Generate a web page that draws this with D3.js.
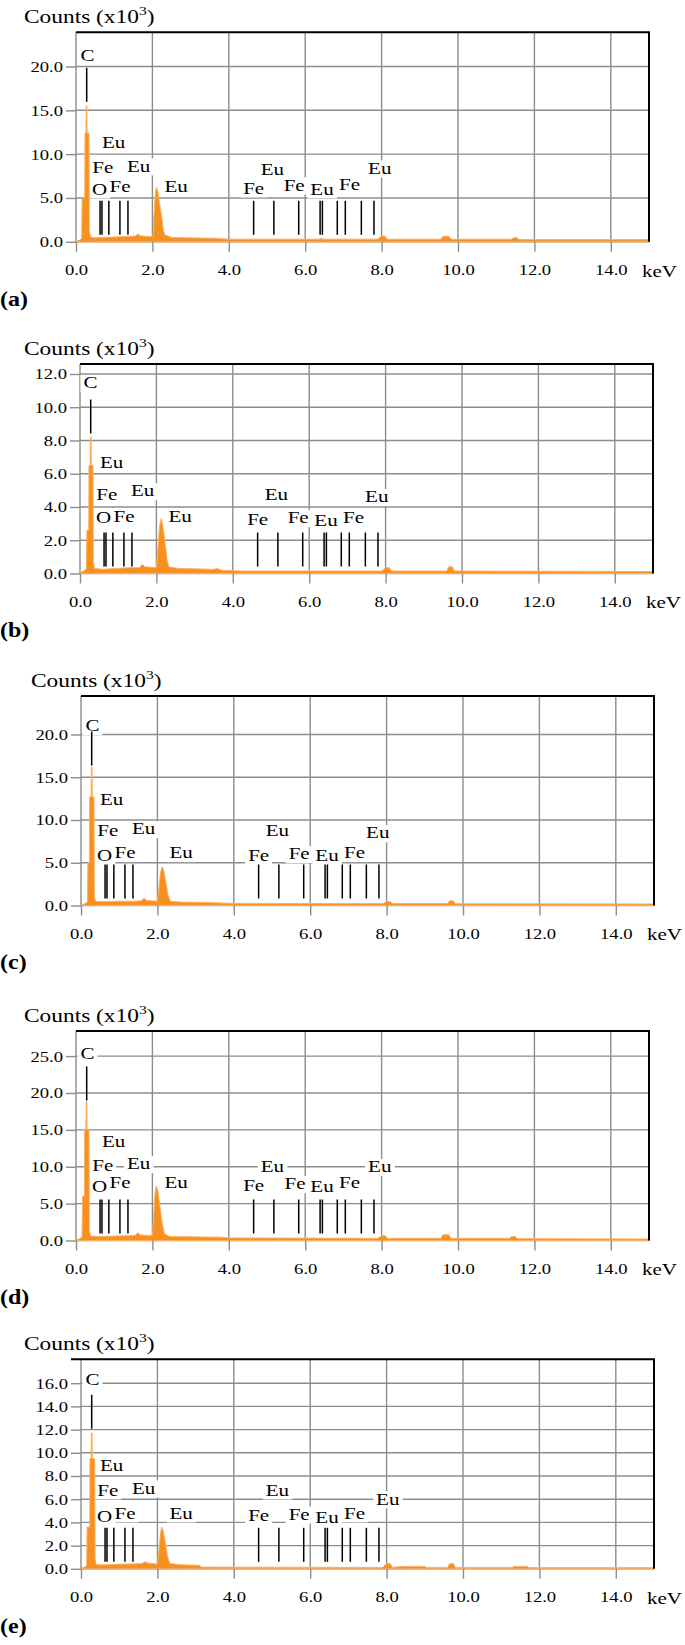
<!DOCTYPE html>
<html>
<head>
<meta charset="utf-8">
<script src="https://cdn.jsdelivr.net/npm/d3@7"></script>
<style>
body { margin: 0; background: #fff; }
svg { display: block; }
</style>
</head>
<body>
<div id="chart"></div>
<script>
// ---- data ----
var panels = ["a", "b", "c", "d", "e"];
var xTicks = [0, 2, 4, 6, 8, 10, 12, 14];
var yTicks = [
  [0, 5, 10, 15, 20],
  [0, 2, 4, 6, 8, 10, 12],
  [0, 5, 10, 15, 20],
  [0, 5, 10, 15, 20, 25],
  [0, 2, 4, 6, 8, 10, 12, 14, 16]
];
var yMax = [23.9, 12.6, 24.5, 28.4, 18.06];

// reference lines (keV)
var lineC = 0.28;
var lineOthers = [0.63, 0.68, 0.86, 1.15, 1.36, 4.65, 5.18, 5.83, 6.39, 6.45, 6.84, 7.05, 7.47, 7.80];

// peak labels and their energies (keV)
var peakLabels = ["C", "Eu", "Fe", "Eu", "O", "Fe", "Eu", "Fe", "Eu", "Fe", "Eu", "Fe", "Eu"];
var peakLabelKeV = [0.30, 0.88, 0.70, 1.64, 0.62, 1.155, 2.62, 4.65, 5.14, 5.71, 6.44, 7.16, 7.90];

// spectra [keV, counts x10^3]
var spectrumA = [[0,0.05],[0.10,0.2],[0.15,0.4],[0.16,5.0],[0.23,5.0],[0.235,12.4],[0.26,12.4],[0.265,15.5],[0.285,15.5],[0.29,12.4],[0.34,12.4],[0.35,1.2],[0.38,0.6],[0.45,0.45],[0.70,0.5],[1.0,0.55],[1.3,0.6],[1.55,0.65],[1.62,0.9],[1.68,0.7],[1.9,0.6],[2.02,0.6],[2.04,3.0],[2.08,5.6],[2.10,6.2],[2.14,5.8],[2.18,4.6],[2.24,3.0],[2.28,1.5],[2.32,0.8],[2.5,0.5],[3.0,0.45],[3.6,0.4],[3.8,0.35],[4.0,0.3],[6.4,0.3],[6.42,0.45],[6.45,0.3],[7.9,0.3],[8.0,0.65],[8.08,0.65],[8.15,0.3],[9.55,0.3],[9.6,0.6],[9.75,0.65],[9.82,0.3],[11.4,0.3],[11.45,0.45],[11.55,0.45],[11.6,0.25],[15.0,0.25]];
var spectrumB = [[0,0.05],[0.10,0.15],[0.17,0.3],[0.18,2.6],[0.23,2.6],[0.235,6.5],[0.265,6.5],[0.27,8.2],[0.29,8.2],[0.295,6.5],[0.34,6.5],[0.35,0.7],[0.38,0.3],[0.6,0.25],[0.9,0.3],[1.3,0.35],[1.55,0.35],[1.63,0.55],[1.7,0.4],[2.0,0.35],[2.04,1.5],[2.08,2.8],[2.12,3.3],[2.16,3.0],[2.22,2.0],[2.28,0.8],[2.33,0.4],[2.6,0.3],[3.5,0.25],[3.6,0.3],[3.7,0.2],[4.2,0.15],[7.9,0.15],[8.0,0.35],[8.1,0.35],[8.15,0.15],[9.6,0.15],[9.65,0.4],[9.75,0.4],[9.8,0.15],[15.0,0.12]];
var spectrumC = [[0,0.05],[0.10,0.2],[0.17,0.4],[0.18,5.0],[0.22,5.0],[0.225,12.7],[0.265,12.7],[0.27,16.2],[0.29,16.2],[0.295,12.7],[0.34,12.7],[0.35,1.2],[0.38,0.5],[0.6,0.45],[1.0,0.5],[1.4,0.5],[1.58,0.55],[1.65,0.85],[1.72,0.6],[2.0,0.5],[2.04,2.0],[2.08,3.8],[2.12,4.5],[2.16,4.2],[2.22,2.8],[2.28,1.2],[2.34,0.5],[2.6,0.4],[3.4,0.35],[3.6,0.3],[4.0,0.25],[7.9,0.22],[8.0,0.45],[8.1,0.45],[8.15,0.22],[9.6,0.22],[9.65,0.55],[9.75,0.55],[9.8,0.2],[15.0,0.18]];
var spectrumD = [[0,0.05],[0.10,0.25],[0.16,0.5],[0.17,6.0],[0.22,6.0],[0.225,15.0],[0.26,15.0],[0.265,18.8],[0.285,18.8],[0.29,15.0],[0.34,15.0],[0.35,1.5],[0.38,0.6],[0.6,0.55],[1.0,0.6],[1.4,0.65],[1.55,0.7],[1.62,1.05],[1.69,0.75],[2.0,0.65],[2.03,3.0],[2.07,6.5],[2.10,7.4],[2.14,6.8],[2.2,4.5],[2.26,2.2],[2.32,0.9],[2.45,0.55],[3.0,0.5],[3.8,0.45],[4.0,0.35],[7.9,0.3],[8.0,0.65],[8.1,0.65],[8.15,0.3],[9.55,0.3],[9.6,0.75],[9.75,0.8],[9.82,0.3],[11.35,0.3],[11.4,0.55],[11.5,0.55],[11.55,0.25],[15.0,0.2]];
var spectrumE = [[0,0.05],[0.10,0.15],[0.15,0.3],[0.16,3.6],[0.23,3.6],[0.235,9.5],[0.265,9.5],[0.27,11.7],[0.29,11.7],[0.295,9.5],[0.36,9.5],[0.37,0.8],[0.4,0.35],[0.7,0.35],[1.0,0.4],[1.4,0.42],[1.6,0.45],[1.67,0.6],[1.75,0.5],[2.0,0.4],[2.04,1.6],[2.08,3.0],[2.11,3.6],[2.15,3.3],[2.2,2.4],[2.27,1.0],[2.33,0.45],[2.6,0.35],[3.1,0.3],[3.15,0.15],[7.9,0.12],[8.0,0.45],[8.1,0.45],[8.15,0.12],[8.4,0.2],[9.0,0.2],[9.05,0.12],[9.6,0.12],[9.65,0.45],[9.75,0.45],[9.8,0.12],[11.3,0.12],[11.32,0.2],[11.7,0.2],[11.72,0.1],[15.0,0.1]];
var spectra = [spectrumA, spectrumB, spectrumC, spectrumD, spectrumE];

// ---- layout ----
var panelLeft = [76, 80, 81, 76, 81];
var panelTop = [32.3, 364, 696, 1031, 1359.3];
var titleX = [24, 24, 31, 24, 24];
var topExt = [0, 0, 0, 0, 10];
// label baseline, px above the zero line, per panel
var labelLift = [
  [181, 94, 69, 70, 47, 50, 50, 48, 67, 51, 47, 52, 68],
  [185, 105, 73, 77, 50, 51, 51, 48, 73, 50, 47, 50, 71],
  [174, 100, 69, 71, 44, 47, 47, 44, 69, 46, 44, 47, 67],
  [181, 93, 69, 71, 48, 52, 52, 49, 68, 51, 48, 52, 68],
  [184, 98, 73, 75, 47, 50, 50, 48, 73, 49, 46, 50, 64]
];
// small horizontal nudges (px) of single labels per panel
var labelNudge = [
  [0, 4, 0, 0, 0, 0, 0, 0, 0, 0, 0, 0, 2],
  [-1, -2, 0, 0, 0, 0, 0, 0, 0, 0, 0, 0, -5],
  [0, -3, 0, 0, 0, 0, 0, 0, 0, 0, 0, 0, -5],
  [0, 4, 0, 0, 0, 0, 0, 0, 0, 1, 0, 0, 2],
  [0, -3, 0, 0, 0, 0, 0, 0, 0, 0, 0, 0, 5]
];
var W = 573, H = 209.5;
var FONT = "'Liberation Serif', 'Times New Roman', serif";
var GRID = "#8c8c8c";
var ORANGE = "#f7901e";
var SX = 1.2; // the figure's text is horizontally stretched

// horizontal stretch around the text anchor
function stretch(sel) {
  sel.each(function() {
    var t = d3.select(this);
    var x = parseFloat(t.attr("x")) || 0;
    t.attr("transform", "translate(" + (x * (1 - SX)) + ",0) scale(" + SX + ",1)");
  });
}

var svg = d3.select("#chart").append("svg")
  .attr("width", 685)
  .attr("height", 1645)
  .attr("font-family", FONT);

svg.append("rect").attr("width", 685).attr("height", 1645).attr("fill", "#fff");

panels.forEach(function(id, i) {
  var x = d3.scaleLinear().domain([0, 15]).range([0, W]);
  var y = d3.scaleLinear().domain([0, yMax[i]]).range([H, 0]);

  var g = svg.append("g")
    .attr("transform", "translate(" + panelLeft[i] + "," + panelTop[i] + ")");

  // grid
  var grid = g.append("g").attr("stroke", GRID).attr("stroke-width", 1.4);
  grid.selectAll(".v").data(xTicks).enter().append("line")
    .attr("x1", function(d) { return x(d); })
    .attr("x2", function(d) { return x(d); })
    .attr("y1", 0).attr("y2", H);
  grid.selectAll(".h").data(yTicks[i]).enter().append("line")
    .attr("x1", 0).attr("x2", W)
    .attr("y1", function(d) { return y(d); })
    .attr("y2", function(d) { return y(d); });

  // white boxes behind labels (filled in later)
  var boxes = g.append("g");

  // spectrum
  var area = d3.area()
    .x(function(d) { return x(d[0]); })
    .y0(y(0))
    .y1(function(d) { return y(d[1]); });
  g.append("path")
    .datum(spectra[i])
    .attr("d", area)
    .attr("fill", ORANGE)
    .attr("stroke", "#fbb263")
    .attr("stroke-width", 1)
    .attr("stroke-linejoin", "round");

  // reference lines
  g.append("line")
    .attr("x1", x(lineC)).attr("x2", x(lineC))
    .attr("y1", y(0) - 174).attr("y2", y(0) - 140)
    .attr("stroke", "#000").attr("stroke-width", 1.5);
  g.selectAll(".mk").data(lineOthers).enter().append("line")
    .attr("x1", function(d) { return x(d); })
    .attr("x2", function(d) { return x(d); })
    .attr("y1", y(0) - 41).attr("y2", y(0) - 7)
    .attr("stroke", "#000").attr("stroke-width", 1.5);

  // labels
  var labels = g.selectAll(".lab").data(peakLabels).enter().append("text")
    .attr("x", function(d, j) { return x(peakLabelKeV[j]) + labelNudge[i][j]; })
    .attr("y", function(d, j) { return y(0) - labelLift[i][j]; })
    .attr("text-anchor", "middle")
    .attr("font-size", 17.5)
    .attr("fill", "#000")
    .text(function(d) { return d; })
    .call(stretch);

  labels.each(function() {
    var bb = this.getBBox();
    var ax = parseFloat(d3.select(this).attr("x"));
    var rx = ax * (1 - SX) + SX * bb.x;
    boxes.append("rect")
      .attr("x", rx - 3)
      .attr("y", bb.y + 2)
      .attr("width", SX * bb.width + 6)
      .attr("height", bb.height - 2)
      .attr("fill", "#fff");
  });

  // axes
  var xAxis = g.append("g")
    .attr("transform", "translate(0," + H + ")")
    .call(d3.axisBottom(x).tickValues(xTicks).tickSize(10).tickPadding(12).tickFormat(d3.format(".1f")));
  xAxis.attr("font-family", FONT).attr("font-size", 15.5);
  xAxis.select(".domain").remove();
  xAxis.selectAll("line").attr("stroke", GRID).attr("stroke-width", 1.4);
  xAxis.selectAll("text").attr("fill", "#000").call(stretch);

  var yAxis = g.append("g")
    .call(d3.axisLeft(y).tickValues(yTicks[i]).tickSize(10).tickPadding(3).tickFormat(d3.format(".1f")));
  yAxis.attr("font-family", FONT).attr("font-size", 15.5);
  yAxis.select(".domain").remove();
  yAxis.selectAll("line").attr("stroke", GRID).attr("stroke-width", 1.4);
  yAxis.selectAll("text").attr("fill", "#000").call(stretch);

  // frame: top and right in black
  g.append("line")
    .attr("x1", -topExt[i]).attr("x2", W + 1)
    .attr("y1", 0).attr("y2", 0)
    .attr("stroke", "#000").attr("stroke-width", 2);
  g.append("line")
    .attr("x1", W).attr("x2", W)
    .attr("y1", 0).attr("y2", H)
    .attr("stroke", "#000").attr("stroke-width", 2);

  // unit
  g.append("text")
    .attr("x", W - 7)
    .attr("y", H + 35)
    .attr("font-size", 17.5)
    .text("keV")
    .call(stretch);

  // y title
  var title = svg.append("text")
    .attr("x", titleX[i])
    .attr("y", panelTop[i] - 9)
    .attr("font-size", 19.5);
  title.append("tspan").text("Counts (x10");
  title.append("tspan").attr("font-size", 13).attr("dy", -8).text("3");
  title.append("tspan").attr("dy", 8).text(")");
  title.call(stretch);

  // panel letter
  svg.append("text")
    .attr("x", 0)
    .attr("y", panelTop[i] + H + 64)
    .attr("font-size", 20)
    .attr("font-weight", "bold")
    .text("(" + id + ")")
    .call(stretch);
});
</script>
</body>
</html>
